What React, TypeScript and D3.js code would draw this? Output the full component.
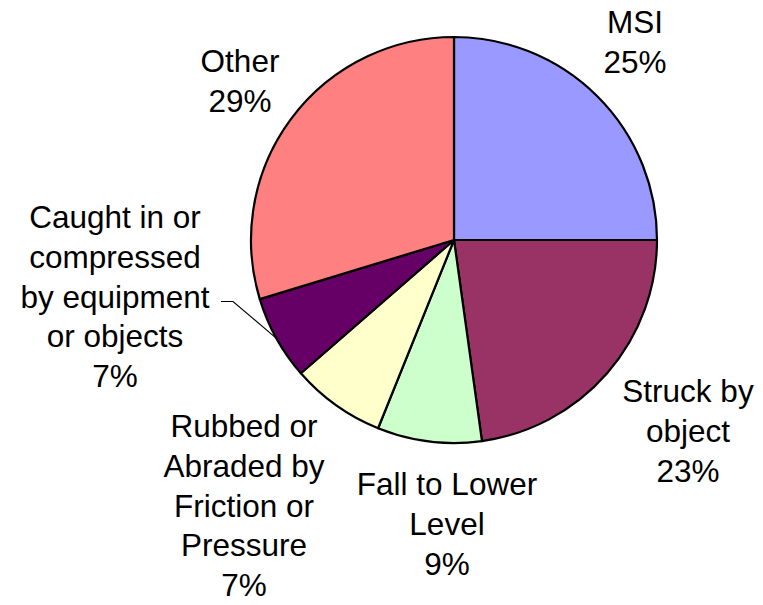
import React from "react";
import * as d3 from "d3";

const categories = ["MSI", "Struck by object", "Fall to Lower Level", "Rubbed or Abraded by Friction or Pressure", "Caught in or compressed by equipment or objects", "Other"];
const values = [25, 22.8, 8.3, 7.5, 6.7, 29.7];
const percentLabels = ["25%", "23%", "9%", "7%", "7%", "29%"];
const labelLines = [
  ["MSI"],
  ["Struck by", "object"],
  ["Fall to Lower", "Level"],
  ["Rubbed or", "Abraded by", "Friction or", "Pressure"],
  ["Caught in or", "compressed", "by equipment", "or objects"],
  ["Other"],
];
const colors = ["#9999FF", "#993366", "#CCFFCC", "#FFFFCC", "#660066", "#FF8080"];

// layout: label anchor (center x, first baseline y)
const labelAnchors: [number, number][] = [
  [635, 33],
  [688, 402],
  [447, 495],
  [244, 437],
  [115, 228],
  [240, 72],
];

const W = 763;
const H = 605;
const cx = 454;
const cy = 240;
const R = 203;
const lineH = 39.8;

export default function App() {
  const pie = d3.pie<number>().sort(null).value((d) => d).startAngle(0).endAngle(2 * Math.PI);
  const arcs = pie(values);
  const arc = d3.arc<d3.PieArcDatum<number>>().innerRadius(0).outerRadius(R);

  const caught = arcs[4];
  const mid = (caught.startAngle + caught.endAngle) / 2;
  const ex = cx + R * Math.sin(mid);
  const ey = cy - R * Math.cos(mid);

  return (
    <svg width={W} height={H} style={{ position: "absolute", left: 0, top: 0 }}>
      <rect width={W} height={H} fill="#fff" />
      <g transform={`translate(${cx},${cy})`}>
        {arcs.map((a, i) => (
          <path key={categories[i]} d={arc(a) || ""} fill={colors[i]} stroke="#000" strokeWidth={2.2} strokeLinejoin="round" />
        ))}
      </g>
      <polyline points={`221,301.5 233,301.5 ${ex},${ey}`} fill="none" stroke="#000" strokeWidth={1.1} />
      {labelLines.map((lines, i) => {
        const [x, y] = labelAnchors[i];
        const all = [...lines, percentLabels[i]];
        return (
          <text key={categories[i]} x={x} y={y} textAnchor="middle" fontFamily="'Liberation Sans', Arial, sans-serif" fontSize={31.5} fill="#000">
            {all.map((t, j) => (
              <tspan key={j} x={x} y={y + j * lineH}>{t}</tspan>
            ))}
          </text>
        );
      })}
    </svg>
  );
}
